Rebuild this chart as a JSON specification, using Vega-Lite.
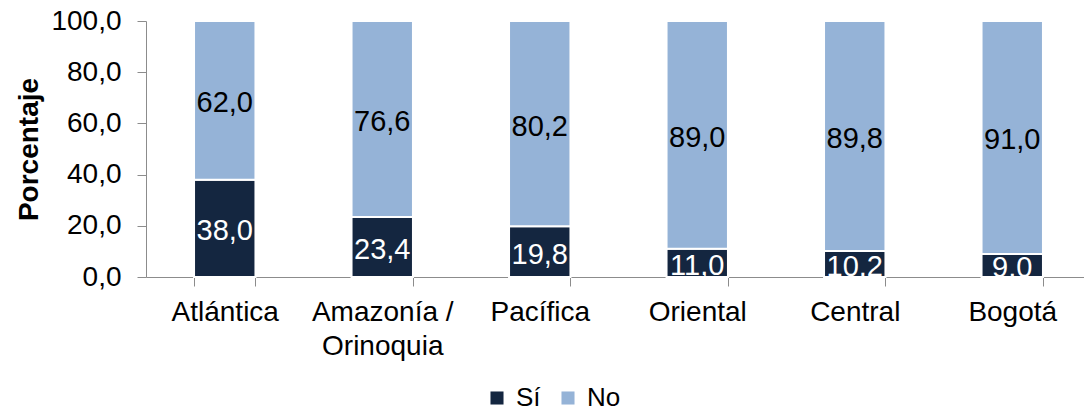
{
  "$schema": "https://vega.github.io/schema/vega-lite/v6.json",
  "width": 945,
  "height": 256,
  "autosize": {"type": "none"},
  "padding": {"left": 146, "top": 21, "right": -7, "bottom": 136},
  "background": "white",
  "config": {
    "font": "Liberation Sans",
    "view": {"stroke": null},
    "locale": {"number": {"decimal": ",", "thousands": ".", "grouping": [3], "currency": ["$", ""]}}
  },
  "data": {
    "values": [
      {"region": "Atlántica", "resp": "Sí", "pct": 38.0},
      {"region": "Atlántica", "resp": "No", "pct": 62.0},
      {"region": "Amazonía / Orinoquia", "resp": "Sí", "pct": 23.4},
      {"region": "Amazonía / Orinoquia", "resp": "No", "pct": 76.6},
      {"region": "Pacífica", "resp": "Sí", "pct": 19.8},
      {"region": "Pacífica", "resp": "No", "pct": 80.2},
      {"region": "Oriental", "resp": "Sí", "pct": 11.0},
      {"region": "Oriental", "resp": "No", "pct": 89.0},
      {"region": "Central", "resp": "Sí", "pct": 10.2},
      {"region": "Central", "resp": "No", "pct": 89.8},
      {"region": "Bogotá", "resp": "Sí", "pct": 9.0},
      {"region": "Bogotá", "resp": "No", "pct": 91.0}
    ]
  },
  "encoding": {
    "x": {
      "field": "region",
      "type": "nominal",
      "sort": ["Atlántica", "Amazonía / Orinoquia", "Pacífica", "Oriental", "Central", "Bogotá"],
      "scale": {"paddingInner": 0.61, "paddingOuter": 0.305},
      "axis": {
        "title": null,
        "labelAngle": 0,
        "labelFontSize": 28,
        "labelColor": "#000000",
        "labelPadding": 12,
        "labelLineHeight": 34,
        "labelBaseline": "top",
        "labelExpr": "datum.value == 'Amazonía / Orinoquia' ? ['Amazonía /', 'Orinoquia'] : datum.value",
        "tickBand": "extent",
        "tickSize": 9,
        "tickColor": "#8c8c8c",
        "domainColor": "#8c8c8c",
        "grid": false
      }
    }
  },
  "layer": [
    {
      "mark": {"type": "bar", "stroke": "white", "strokeWidth": 2},
      "encoding": {
        "y": {
          "field": "pct",
          "type": "quantitative",
          "stack": "zero",
          "scale": {"domain": [0, 100]},
          "axis": {
            "title": "Porcentaje",
            "titleFontSize": 28,
            "titleFontWeight": "bold",
            "titleColor": "#000000",
            "titlePadding": 7,
            "values": [0, 20, 40, 60, 80, 100],
            "format": ".1f",
            "labelFontSize": 28,
            "labelColor": "#000000",
            "labelPadding": 16,
            "tickSize": 9,
            "tickColor": "#8c8c8c",
            "domainColor": "#8c8c8c",
            "grid": false
          }
        },
        "color": {
          "field": "resp",
          "type": "nominal",
          "scale": {"domain": ["Sí", "No"], "range": ["#142640", "#95b3d7"]},
          "legend": {
            "title": null,
            "orient": "none",
            "direction": "horizontal",
            "legendX": 338,
            "legendY": 364,
            "symbolType": "square",
            "symbolSize": 170,
            "symbolStrokeWidth": 0,
            "labelFontSize": 26,
            "labelColor": "#000000",
            "labelOffset": 6,
            "columnPadding": 14
          }
        },
        "order": {"field": "resp", "sort": "descending"}
      }
    },
    {
      "mark": {"type": "text", "fontSize": 29, "baseline": "middle", "align": "center", "dy": 3},
      "encoding": {
        "y": {"field": "pct", "type": "quantitative", "stack": "zero", "bandPosition": 0.5},
        "detail": {"field": "resp"},
        "order": {"field": "resp", "sort": "descending"},
        "text": {"field": "pct", "type": "quantitative", "format": ".1f"},
        "color": {"condition": {"test": "datum.resp == 'Sí'", "value": "white"}, "value": "black"}
      }
    }
  ]
}
